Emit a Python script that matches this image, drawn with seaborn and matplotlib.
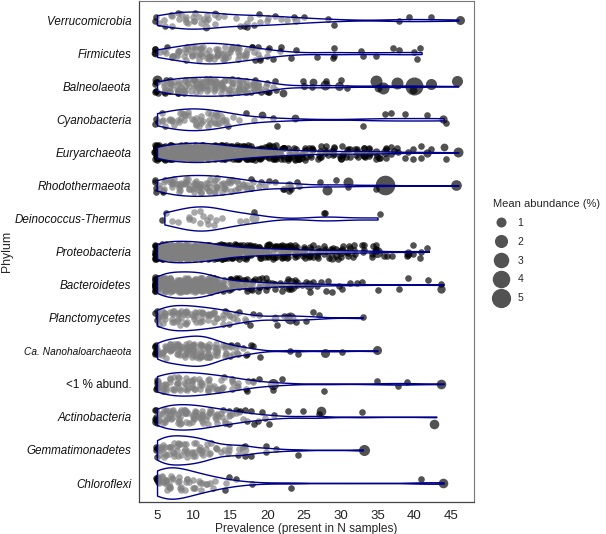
import numpy as np
import pandas as pd
import matplotlib
matplotlib.use('Agg')
import matplotlib.pyplot as plt
from matplotlib.lines import Line2D
import seaborn as sns

sns.set_style('white')
plt.rcParams['font.family'] = ['Liberation Sans', 'DejaVu Sans']

# phyla, top to bottom
phyla = ['Verrucomicrobia', 'Firmicutes', 'Balneolaeota', 'Cyanobacteria',
         'Euryarchaeota', 'Rhodothermaeota', 'Deinococcus-Thermus',
         'Proteobacteria', 'Bacteroidetes', 'Planctomycetes',
         'Ca. Nanohaloarchaeota', '<1 % abund.', 'Actinobacteria',
         'Gemmatimonadetes', 'Chloroflexi']

# prevalence values 5..46
prev_values = list(range(5, 47))

# number of small OTUs (mean abundance ~0.3 %) at each prevalence 5..46
cnt_verruco = [3, 2, 3, 3, 4, 4, 3, 3, 2, 1,
               0, 2, 3, 2, 2, 2, 1, 1, 1, 1,
               1, 0, 0, 1, 1, 0, 0, 0, 0, 0,
               0, 0, 0, 1, 1, 0, 0, 1, 0, 0,
               0, 0]
cnt_firmi = [4, 3, 4, 5, 6, 7, 8, 8, 8, 7,
             6, 6, 5, 4, 4, 3, 1, 2, 1, 1,
             0, 0, 1, 0, 3, 0, 0, 0, 2, 0,
             1, 0, 1, 1, 0, 2, 1, 0, 0, 0,
             0, 0]
cnt_balneo = [7, 7, 8, 9, 9, 10, 10, 10, 10, 10,
              9, 9, 8, 8, 6, 5, 3, 0, 0, 0,
              1, 1, 0, 1, 0, 1, 1, 0, 0, 0,
              0, 0, 0, 0, 0, 0, 0, 0, 0, 0,
              0, 0]
cnt_cyano = [3, 4, 5, 5, 5, 5, 5, 5, 4, 3,
             2, 1, 1, 1, 0, 0, 2, 0, 0, 0,
             0, 0, 0, 0, 0, 0, 0, 0, 1, 0,
             0, 1, 1, 0, 1, 0, 0, 1, 0, 1,
             0, 0]
cnt_eury = [40, 30, 35, 38, 40, 42, 42, 40, 36, 32,
            28, 25, 22, 20, 18, 16, 14, 12, 11, 10,
            9, 7, 6, 5, 6, 5, 5, 5, 5, 5,
            4, 3, 3, 2, 2, 2, 2, 1, 0, 1,
            0, 0]
cnt_rhodo = [6, 6, 7, 8, 8, 8, 8, 8, 8, 7,
             6, 5, 5, 4, 2, 2, 1, 2, 3, 2,
             0, 0, 1, 0, 1, 0, 1, 0, 0, 0,
             1, 0, 0, 0, 0, 0, 0, 0, 0, 0,
             0, 0]
cnt_deino = [0, 2, 1, 1, 2, 2, 3, 3, 2, 1,
             0, 1, 1, 1, 0, 0, 0, 0, 0, 0,
             0, 0, 0, 2, 0, 0, 0, 0, 0, 0,
             1, 0, 0, 0, 0, 0, 0, 0, 0, 0,
             0, 0]
cnt_proteo = [50, 45, 45, 45, 45, 44, 42, 38, 32, 26,
              22, 20, 18, 16, 15, 14, 13, 12, 11, 10,
              8, 8, 7, 6, 6, 5, 5, 4, 4, 3,
              3, 2, 1, 0, 2, 2, 2, 1, 0, 0,
              0, 0]
cnt_bactero = [30, 28, 30, 30, 30, 30, 30, 25, 18, 12,
               10, 9, 8, 7, 6, 5, 4, 3, 3, 3,
               2, 2, 2, 2, 1, 2, 1, 1, 1, 0,
               1, 0, 0, 1, 1, 0, 0, 1, 0, 1,
               0, 0]
cnt_plancto = [8, 7, 8, 8, 8, 7, 7, 6, 6, 5,
               4, 3, 2, 2, 1, 0, 1, 1, 1, 1,
               1, 1, 1, 0, 0, 0, 0, 0, 1, 0,
               0, 0, 0, 0, 0, 0, 0, 0, 0, 0,
               0, 0]
cnt_nano = [10, 9, 10, 11, 12, 13, 13, 12, 9, 6,
            5, 4, 3, 2, 1, 0, 0, 0, 1, 1,
            0, 0, 0, 0, 0, 1, 0, 0, 0, 0,
            0, 0, 0, 0, 0, 0, 0, 0, 0, 0,
            0, 0]
cnt_low = [8, 7, 7, 7, 7, 7, 6, 6, 5, 5,
           4, 3, 3, 2, 1, 0, 1, 1, 0, 0,
           0, 0, 0, 1, 0, 0, 0, 0, 0, 0,
           1, 0, 0, 1, 1, 0, 0, 0, 0, 0,
           0, 0]
cnt_actino = [10, 8, 9, 9, 9, 9, 8, 7, 6, 5,
              5, 4, 3, 2, 2, 2, 1, 0, 1, 0,
              1, 0, 1, 0, 0, 0, 0, 0, 1, 0,
              0, 0, 0, 0, 0, 0, 0, 0, 0, 0,
              0, 0]
cnt_gemma = [8, 7, 8, 7, 7, 7, 6, 5, 3, 2,
             3, 2, 3, 1, 0, 2, 1, 0, 0, 1,
             0, 0, 0, 0, 0, 0, 0, 0, 0, 0,
             0, 0, 0, 0, 0, 0, 0, 0, 0, 0,
             0, 0]
cnt_chloro = [10, 9, 7, 6, 5, 4, 4, 3, 2, 2,
              1, 1, 0, 1, 0, 0, 0, 0, 1, 0,
              0, 0, 0, 0, 0, 0, 0, 0, 0, 0,
              0, 0, 0, 0, 0, 0, 1, 0, 0, 0,
              0, 0]

counts = [cnt_verruco, cnt_firmi, cnt_balneo, cnt_cyano, cnt_eury, cnt_rhodo,
          cnt_deino, cnt_proteo, cnt_bactero, cnt_plancto, cnt_nano, cnt_low,
          cnt_actino, cnt_gemma, cnt_chloro]
small_abund = 0.3

# larger OTUs: phylum, prevalence, mean abundance (%)
big_phylum = ['Verrucomicrobia', 'Verrucomicrobia', 'Verrucomicrobia', 'Verrucomicrobia',
              'Firmicutes',
              'Balneolaeota', 'Balneolaeota', 'Balneolaeota', 'Balneolaeota', 'Balneolaeota',
              'Balneolaeota', 'Balneolaeota', 'Balneolaeota', 'Balneolaeota', 'Balneolaeota',
              'Balneolaeota', 'Balneolaeota', 'Balneolaeota', 'Balneolaeota',
              'Cyanobacteria', 'Cyanobacteria', 'Cyanobacteria', 'Cyanobacteria',
              'Euryarchaeota', 'Euryarchaeota', 'Euryarchaeota', 'Euryarchaeota',
              'Euryarchaeota', 'Euryarchaeota', 'Euryarchaeota',
              'Rhodothermaeota', 'Rhodothermaeota', 'Rhodothermaeota', 'Rhodothermaeota',
              'Rhodothermaeota',
              'Deinococcus-Thermus',
              'Proteobacteria', 'Proteobacteria', 'Proteobacteria', 'Proteobacteria',
              'Bacteroidetes', 'Bacteroidetes', 'Bacteroidetes', 'Bacteroidetes',
              'Planctomycetes', 'Planctomycetes',
              'Ca. Nanohaloarchaeota', 'Ca. Nanohaloarchaeota',
              '<1 % abund.', '<1 % abund.',
              'Actinobacteria', 'Actinobacteria',
              'Gemmatimonadetes', 'Gemmatimonadetes',
              'Chloroflexi']
big_prev = [46, 12, 13, 24,
            5,
            5, 22, 25, 26, 28,
            30, 35, 35, 36, 38,
            40, 40, 42, 46,
            13, 19, 24, 44,
            46, 44, 35, 36,
            30, 33, 42,
            23, 28, 31, 36,
            46,
            18,
            35, 30, 29, 39,
            23, 26, 20, 44,
            23, 21,
            28, 35,
            21, 44,
            27, 43,
            17, 33,
            44]
big_abund = [0.75, 0.5, 0.5, 0.55,
             0.5,
             1.0, 0.5, 0.4, 0.5, 1.0,
             0.75, 0.5, 1.6, 1.6, 1.6,
             4.3, 0.5, 1.3, 1.3,
             2.8, 0.5, 0.5, 0.6,
             1.0, 0.5, 0.6, 0.75,
             0.5, 0.6, 0.6,
             0.6, 1.0, 1.0, 5.2,
             1.2,
             1.0,
             1.3, 0.75, 0.6, 0.6,
             2.8, 1.0, 0.6, 0.6,
             1.6, 0.5,
             0.75, 0.75,
             1.3, 0.9,
             0.9, 0.9,
             0.9, 1.3,
             0.9]

legend_values = [1, 2, 3, 4, 5]

# --- build long table ---
rows = []
for name, cnt in zip(phyla, counts):
    for p, c in zip(prev_values, cnt):
        rows += [(name, p, small_abund)] * c
small_df = pd.DataFrame(rows, columns=['phylum', 'prevalence', 'abundance'])
big_df = pd.DataFrame({'phylum': big_phylum, 'prevalence': big_prev, 'abundance': big_abund})
df = pd.concat([small_df, big_df], ignore_index=True)


def diam_pt(v):
    # area-like size scale, diameter in points
    return (2.5 + 7.5 * np.sqrt(v)) * 0.72


fig = plt.figure(figsize=(6.06, 5.34), dpi=100)
ax = fig.add_axes([0.2294, 0.0599, 0.5528, 0.9381])

np.random.seed(3)
for ab, sub in df.groupby('abundance'):
    sns.stripplot(data=sub, x='prevalence', y='phylum', order=phyla, orient='h',
                  jitter=0.22, size=diam_pt(ab), color='black', alpha=0.68,
                  linewidth=0, ax=ax)

# small horizontal jitter too (like geom_jitter)
for coll in ax.collections:
    off = coll.get_offsets()
    if len(off):
        off = np.asarray(off, dtype=float).copy()
        off[:, 0] += np.random.uniform(-0.35, 0.35, len(off))
        coll.set_offsets(off)

# violins drawn over the points with a half transparent white fill
n_before = len(ax.collections)
sns.violinplot(data=df, x='prevalence', y='phylum', order=phyla, orient='h',
               color='white', saturation=1, linecolor='#00008B', linewidth=1.0,
               inner=None, cut=0, density_norm='area', width=0.95, bw_adjust=0.7,
               ax=ax)
for coll in ax.collections[n_before:]:
    coll.set_facecolor((1, 1, 1, 0.5))
    coll.set_zorder(3)

ax.set_xlim(2.55, 48.13)
ax.set_ylim(14.575, -0.575)
ax.set_xticks([5, 10, 15, 20, 25, 30, 35, 40, 45])
ax.set_xticks([7.5, 12.5, 17.5, 22.5, 27.5, 32.5, 37.5, 42.5, 47.5], minor=True)
ax.tick_params(axis='x', which='both', length=3.5, width=0.6, color='#555555',
               labelsize=9.5, labelcolor='#222222', pad=2)
ax.tick_params(axis='y', length=3.5, width=0.6, color='#555555', labelsize=8.4,
               labelcolor='#111111', pad=2)
ax.set_xlabel('Prevalence (present in N samples)', fontsize=8.6, labelpad=1)
ax.set_ylabel('Phylum', fontsize=8.8)
ax.yaxis.set_label_coords(-0.376, 0.5)

for lab in ax.get_yticklabels():
    t = lab.get_text()
    if t == '<1 % abund.':
        continue
    lab.set_style('italic')
    if t.startswith('Ca.'):
        lab.set_fontsize(7.3)

for side in ['left', 'bottom']:
    ax.spines[side].set_color('#444444')
    ax.spines[side].set_linewidth(0.9)
for side in ['top', 'right']:
    ax.spines[side].set_color('#777777')
    ax.spines[side].set_linewidth(0.8)

handles = [Line2D([], [], marker='o', linestyle='', color='black', alpha=0.68,
                  markeredgewidth=0, markersize=diam_pt(v)) for v in legend_values]
fig.legend(handles, [str(v) for v in legend_values], title='Mean abundance (%)',
           loc='upper left', bbox_to_anchor=(0.802, 0.641), frameon=False,
           fontsize=7.5, title_fontsize=8.0, alignment='left',
           labelspacing=0.85, handlelength=1.4, handletextpad=0.9, borderpad=0.2)

fig.savefig('out.png', dpi=100)
